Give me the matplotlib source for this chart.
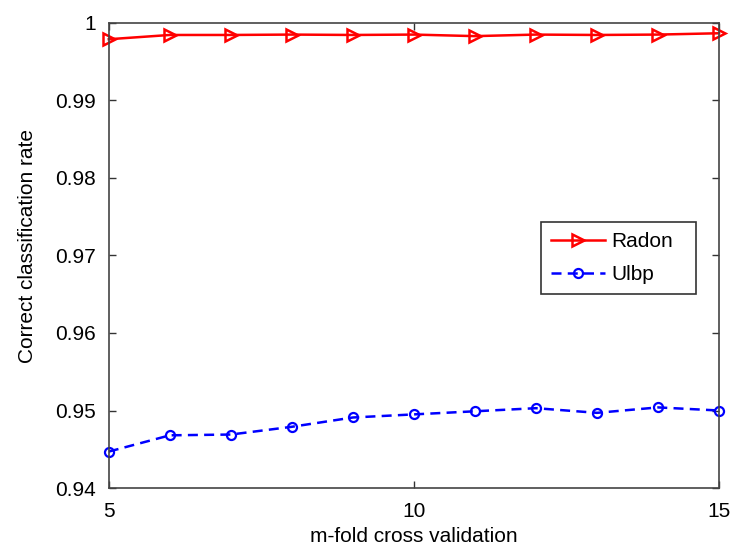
import matplotlib
matplotlib.use("Agg")
import matplotlib.pyplot as plt
from matplotlib.ticker import FixedLocator, FixedFormatter

plt.rcParams['font.family'] = ['Liberation Sans', 'DejaVu Sans']

# data
folds = [5, 6, 7, 8, 9, 10, 11, 12, 13, 14, 15]
radon = [0.9979, 0.99845, 0.99845, 0.9985, 0.99845, 0.9985, 0.9983, 0.9985, 0.99845, 0.9985, 0.99867]
ulbp = [0.9447, 0.9468, 0.9469, 0.9479, 0.9491, 0.9495, 0.9499, 0.9503, 0.9497, 0.9504, 0.9500]
yticks = [0.94, 0.95, 0.96, 0.97, 0.98, 0.99, 1.0]
ylabels = ['0.94', '0.95', '0.96', '0.97', '0.98', '0.99', '1']

fig = plt.figure(figsize=(7.30, 5.53), dpi=100)
ax = fig.add_axes([0.149, 0.1175, 0.836, 0.841])

ax.plot(folds, radon, color='red', linestyle='-', linewidth=1.8,
        marker='>', markersize=8.5, markerfacecolor='none', markeredgewidth=1.8,
        label='Radon', clip_on=False)
ax.plot(folds, ulbp, color='blue', linestyle='--', linewidth=1.8, dashes=(4, 2.5),
        marker='o', markersize=6.5, markerfacecolor='none', markeredgewidth=1.6,
        label='Ulbp', clip_on=False)

ax.set_xlim(5, 15)
ax.set_ylim(0.94, 1.0)
ax.set_xticks([5, 10, 15])
ax.yaxis.set_major_locator(FixedLocator(yticks))
ax.yaxis.set_major_formatter(FixedFormatter(ylabels))
ax.tick_params(direction='in', top=True, right=True, labelsize=15, length=5, width=1,
               color='#333333')
ax.tick_params(axis='x', pad=10)
ax.tick_params(axis='y', pad=9)
for s in ax.spines.values():
    s.set_color('#444444')
    s.set_linewidth(1.2)

ax.set_xlabel('m-fold cross validation', fontsize=15)
ax.set_ylabel('Correct classification rate', fontsize=15)
ax.xaxis.set_label_coords(0.5, -0.084)
ax.yaxis.set_label_coords(-0.118, 0.52)

leg = ax.legend(loc='upper left', bbox_to_anchor=(0.708, 0.417, 0.254, 0.155),
                mode='expand', fontsize=15, numpoints=1, fancybox=False,
                edgecolor='#333333', framealpha=1, handlelength=2.6,
                labelspacing=0.65, borderpad=0.5, handletextpad=0.3, borderaxespad=0)
leg.get_frame().set_linewidth(1.2)

fig.savefig('out.png', dpi=100)
